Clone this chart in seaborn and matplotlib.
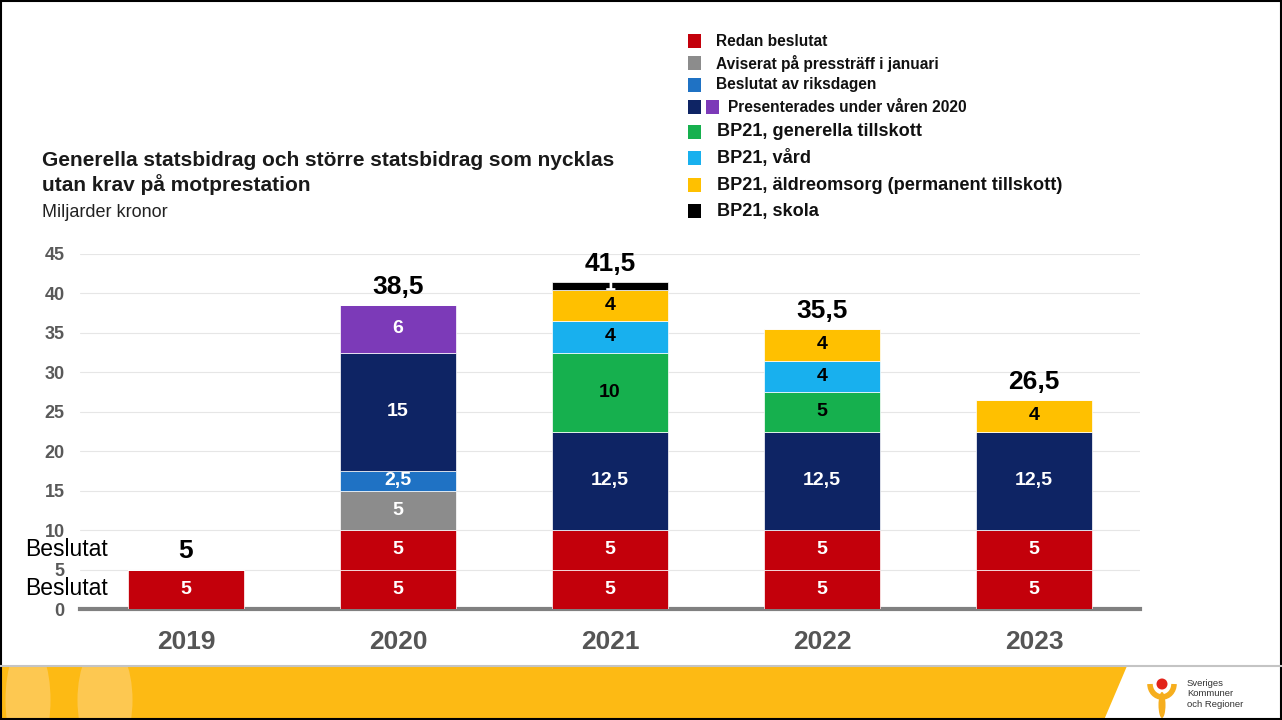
import numpy as np
import pandas as pd
import seaborn as sns
import matplotlib.pyplot as plt
import matplotlib.patches as patches

# data
years = ['2019', '2020', '2021', '2022', '2023']
redan_1 = [5, 5, 5, 5, 5]
redan_2 = [0, 5, 5, 5, 5]
aviserat = [0, 5, 0, 0, 0]
riksdagen = [0, 2.5, 0, 0, 0]
varen_navy = [0, 15, 12.5, 12.5, 12.5]
varen_purple = [0, 6, 0, 0, 0]
bp21_generella = [0, 0, 10, 5, 0]
bp21_vard = [0, 0, 4, 4, 0]
bp21_aldre = [0, 0, 4, 4, 4]
bp21_skola = [0, 0, 1, 0, 0]

layers = [
    (redan_1, '#C3000B', 'white'),
    (redan_2, '#C3000B', 'white'),
    (aviserat, '#8C8C8C', 'white'),
    (riksdagen, '#1F72C4', 'white'),
    (varen_navy, '#0E2464', 'white'),
    (varen_purple, '#7C3AB8', 'white'),
    (bp21_generella, '#16B04E', 'black'),
    (bp21_vard, '#18B0EE', 'black'),
    (bp21_aldre, '#FFC000', 'black'),
    (bp21_skola, '#000000', 'white'),
]

legend_items = [
    ('Redan beslutat', ['#C3000B']),
    ('Aviserat på pressträff i januari', ['#8C8C8C']),
    ('Beslutat av riksdagen', ['#1F72C4']),
    ('Presenterades under våren 2020', ['#0E2464', '#7C3AB8']),
    ('BP21, generella tillskott', ['#16B04E']),
    ('BP21, vård', ['#18B0EE']),
    ('BP21, äldreomsorg (permanent tillskott)', ['#FFC000']),
    ('BP21, skola', ['#000000']),
]

def fmt(v):
    return ('%g' % v).replace('.', ',')

sns.set_style('white')
plt.rcParams['font.family'] = ['Liberation Sans', 'DejaVu Sans']

W, H = 1282, 720
fig = plt.figure(figsize=(12.82, 7.2), dpi=100)
ax = fig.add_axes([80 / W, 1 - 609 / H, 1060 / W, 355 / H])

bottom = np.zeros(len(years))
for vals, col, tcol in layers:
    sns.barplot(x=years, y=vals, bottom=bottom, color=col, saturation=1, width=0.55,
                errorbar=None, edgecolor='white', linewidth=0.5, ax=ax, zorder=3)
    cont = ax.containers[-1]
    ax.bar_label(cont, labels=[fmt(v) if v > 0 else '' for v in vals],
                 label_type='center', color=tcol, fontsize=14,
                 fontweight='bold')
    bottom = bottom + np.array(vals)

totals = bottom
for i, t in enumerate(totals):
    ax.annotate(fmt(t), xy=(i, t), xytext=(0, 13), textcoords='offset points',
                ha='center', va='center', fontsize=19, fontweight='bold',
                color='black')

ax.set_xlim(-0.5, 4.5)
ax.set_ylim(0, 45)
ax.set_yticks(range(0, 50, 5))
ax.yaxis.grid(True, color='#E6E6E6', linewidth=0.8, zorder=0)
ax.set_axisbelow(True)
for s in ['top', 'right', 'left']:
    ax.spines[s].set_visible(False)
ax.spines['bottom'].set_color('#808080')
ax.spines['bottom'].set_linewidth(3)
ax.tick_params(axis='y', length=0, pad=11, labelsize=13, labelcolor='#595959')
ax.tick_params(axis='x', length=0, pad=15, labelsize=19, labelcolor='#555555')
for lab in ax.get_yticklabels() + ax.get_xticklabels():
    lab.set_fontweight('bold')
ax.set_xlabel('')
ax.set_ylabel('')

# "Beslutat" side labels
for yv in [7.6, 2.6]:
    ax.text(-0.052, yv, 'Beslutat', transform=ax.get_yaxis_transform(),
            ha='left', va='center', fontsize=16.5, color='black')

# title and unit
fig.text(42 / W, 1 - 160 / H, 'Generella statsbidrag och större statsbidrag som nycklas',
         fontsize=15, fontweight='bold', va='center', color='#1A1A1A')
fig.text(42 / W, 1 - 185 / H, 'utan krav på motprestation',
         fontsize=15, fontweight='bold', va='center', color='#1A1A1A')
fig.text(42 / W, 1 - 212 / H, 'Miljarder kronor', fontsize=13, va='center',
         color='#222222')

# legend
rows_y = [41, 63, 85, 107, 132, 158, 185, 211]
for k, ((name, cols), ry) in enumerate(zip(legend_items, rows_y)):
    fs = 11.2 if k < 4 else 13.1
    for j, c in enumerate(cols):
        fig.add_artist(patches.Rectangle(((688 + 18 * j) / W, 1 - (ry + 7) / H),
                                         13 / W, 14 / H, facecolor=c,
                                         edgecolor='none', transform=fig.transFigure))
    tx = 716 if len(cols) == 1 else 728
    if k >= 4:
        tx = 717
    fig.text(tx / W, 1 - ry / H, name, fontsize=fs, fontweight='bold',
             va='center', color='#111111')

# footer band
band = patches.Polygon([(0, 0), (0, 54 / H), (1127 / W, 54 / H), (1104 / W, 0)],
                       closed=True, facecolor='#FDBA14', edgecolor='none',
                       transform=fig.transFigure)
fig.add_artist(band)
for cx, w in [(28, 45), (105, 55)]:
    sw = patches.Ellipse((cx / W, 20 / H), w / W, 120 / H, facecolor='#FDD27A',
                         edgecolor='none', alpha=0.6, transform=fig.transFigure)
    fig.add_artist(sw)
    sw.set_clip_path(band)
fig.add_artist(plt.Line2D([0, 1], [54 / H, 54 / H], color='#C4C4C4', linewidth=1.5,
                          transform=fig.transFigure))

# logo drawn in a small pixel-scaled axes
lax = fig.add_axes([1145 / W, 0, 40 / W, 52 / H])
lax.set_xlim(1145, 1185)
lax.set_ylim(720, 668)
lax.axis('off')
lax.add_patch(patches.Arc((1162, 684), 24, 26, theta1=0, theta2=180,
                          color='#F6AE1E', linewidth=4))
lax.add_patch(patches.Ellipse((1162, 705), 7, 26, facecolor='#F6AE1E',
                              edgecolor='none'))
lax.add_patch(patches.Circle((1162, 684), 5.5, facecolor='#E2231A', edgecolor='none'))
fig.text(1187 / W, 1 - 694 / H, 'Sveriges\nKommuner\noch Regioner', fontsize=6.8,
         va='center', ha='left', color='#333333', linespacing=1.15)

# frame
fig.add_artist(patches.Rectangle((0.001, 0.001), 0.998, 0.998, fill=False,
                                 edgecolor='black', linewidth=1.5,
                                 transform=fig.transFigure))

fig.savefig('out.png', dpi=100)
